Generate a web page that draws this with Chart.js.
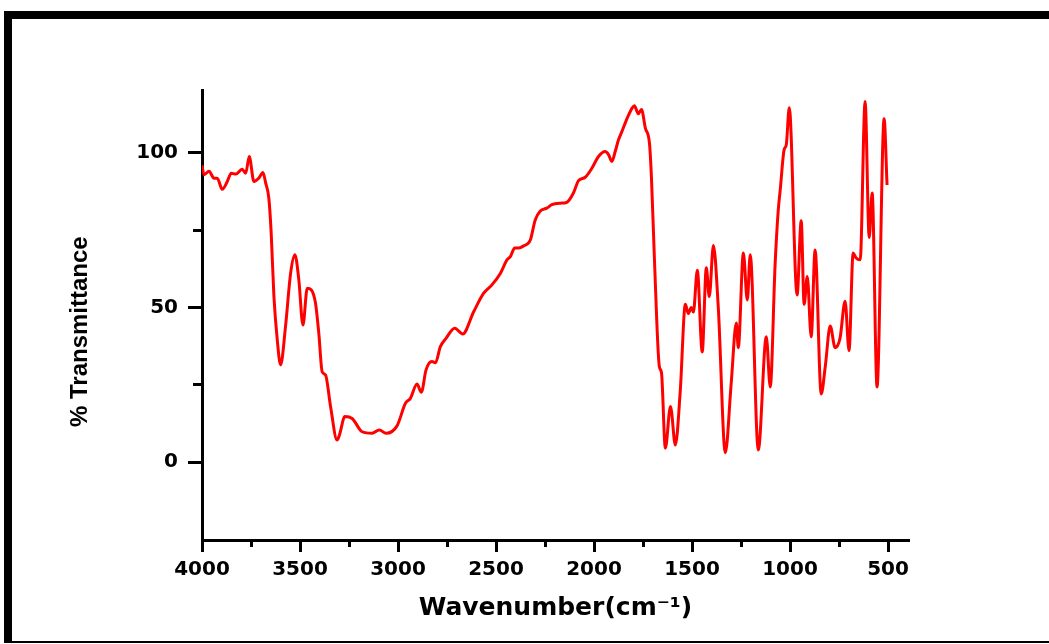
<!DOCTYPE html>
<html>
<head>
<meta charset="utf-8">
<script src="https://cdn.jsdelivr.net/npm/chart.js@4"></script>
<style>
  html, body { margin: 0; padding: 0; background: #fff; overflow: hidden; }
  #wrap { position: relative; width: 1049px; height: 644px; }
  #frame {
    position: absolute; left: 4px; top: 11px; width: 1060px; height: 622px;
    border-top: 8px solid #000; border-left: 8px solid #000; border-bottom: 2px solid #000;
    pointer-events: none;
  }
  canvas { position: absolute; left: 0; top: 0; }
</style>
</head>
<body>
<div id="wrap">
  <canvas id="ftir" width="1049" height="644"></canvas>
  <div id="frame"></div>
</div>
<script>
// FTIR spectrum
const wavenumbers = [
  4000, 3990, 3964, 3939, 3922, 3897, 3871, 3851, 3828, 3795, 3777, 3759, 3735, 3710, 3689, 3675,
  3659, 3647, 3633, 3616, 3599, 3574, 3548, 3526, 3506, 3485, 3463, 3443, 3421, 3404, 3387, 3370,
  3344, 3311, 3300, 3271, 3234, 3183, 3132, 3095, 3061, 3005, 2962, 2937, 2903, 2881, 2857, 2827,
  2809, 2784, 2755, 2711, 2670, 2614, 2563, 2521, 2478, 2444, 2427, 2405, 2385, 2359, 2325, 2300,
  2274, 2241, 2215, 2172, 2139, 2105, 2079, 2045, 2011, 1977, 1943, 1926, 1909, 1892, 1875, 1860,
  1830, 1804, 1794, 1774, 1758, 1738, 1717, 1707, 1692, 1667, 1656, 1636, 1610, 1585, 1560, 1534,
  1519, 1504, 1493, 1473, 1448, 1427, 1412, 1391, 1366, 1330, 1300, 1274, 1264, 1238, 1218, 1203,
  1162, 1121, 1101, 1076, 1060, 1050, 1030, 1019, 1004, 964, 943, 928, 912, 892, 872, 841,
  820, 795, 770, 745, 719, 699, 678, 663, 642, 617, 596, 581, 556, 520, 505
];
const transmittance = [
  96, 92.9, 94, 91.8, 91.8, 88.2, 90.7, 93.4, 93.1, 94.7, 93.4, 98.8, 90.7, 91.8, 93.6, 90.2,
  85.3, 74, 53.5, 39.5, 31.4, 43.8, 61, 67, 58.9, 44.3, 56.2, 55.7, 51.4, 41.6, 29.2, 28.2,
  17.9, 7.1, 8.5, 14.7, 14.1, 9.8, 9.3, 10.4, 9.3, 11.7, 19, 20.6, 25.2, 22.6, 29.8, 32.5,
  32.1, 37.3, 40, 43.3, 41.4, 48.6, 54.6, 57.3, 61, 65.4, 66.4, 69.2, 69.2, 69.9, 71.8, 78.3,
  81.2, 82.1, 83.2, 83.7, 84, 87, 91, 92.1, 95, 98.8, 100.4, 99.4, 97.2, 100.4, 104.2, 106.5,
  111.3, 114.6, 115.2, 112.6, 114, 108, 103, 92, 66, 31, 29, 4.5, 18, 5.5, 23, 51,
  48, 50, 48.5, 62, 35.6, 62.8, 53.5, 70, 50, 3, 25.6, 45, 37, 67.6, 52.4, 67,
  3.9, 40.5, 24.3, 64, 81.5, 88, 101, 102.6, 114.6, 54, 78, 51, 60, 40.5, 68.6, 22,
  31, 44, 37, 40, 52, 36, 67.6, 66, 65.4, 116.6, 72.6, 87, 24.3, 111, 89.6
];

// Оси
const xMajorTicks = [4000, 3500, 3000, 2500, 2000, 1500, 1000, 500];
const xMinorTicks = [3750, 3250, 2750, 2250, 1750, 1250, 750];
const yMajorTicks = [0, 50, 100];
const yMinorTicks = [25, 75];
const xRange = [393, 4000];
const yRange = [-25.2, 120.3];

const tickFont = { family: 'DejaVu Sans', size: 20, weight: 'bold' };

const points = wavenumbers.map((wn, i) => ({ x: wn, y: transmittance[i] }));

new Chart(document.getElementById('ftir'), {
  type: 'line',
  data: {
    datasets: [{
      data: points,
      borderColor: 'rgb(255, 0, 0)',
      borderWidth: 3,
      pointRadius: 0,
      cubicInterpolationMode: 'monotone',
      fill: false
    }]
  },
  options: {
    responsive: false,
    animation: false,
    events: [],
    layout: { padding: { left: 0, top: 90, right: 140, bottom: 0 } },
    plugins: { legend: { display: false }, tooltip: { enabled: false } },
    scales: {
      x: {
        type: 'linear', reverse: true,
        min: xRange[0], max: xRange[1],
        afterBuildTicks: s => { s.ticks = xMajorTicks.map(v => ({ value: v })); },
        afterFit: s => { s.height = 104; },
        border: { display: true, color: '#000', width: 3 },
        grid: { drawOnChartArea: false, drawTicks: true, tickLength: 12, tickWidth: 3, tickColor: '#000' },
        ticks: { color: '#000', font: tickFont, padding: 6, maxRotation: 0, callback: v => String(v) },
        title: {
          display: true, text: 'Wavenumber(cm⁻¹)', color: '#000',
          font: { family: 'DejaVu Sans', size: 25, weight: 'bold' },
          padding: { top: 0, bottom: 21 }
        }
      },
      xm: {
        type: 'linear', reverse: true,
        min: xRange[0], max: xRange[1],
        position: { y: yRange[0] },
        afterBuildTicks: s => { s.ticks = xMinorTicks.map(v => ({ value: v })); },
        border: { display: false },
        grid: { drawOnChartArea: false, drawTicks: true, tickLength: 7, tickWidth: 3, tickColor: '#000' },
        ticks: { display: false }
      },
      y: {
        type: 'linear',
        min: yRange[0], max: yRange[1],
        afterBuildTicks: s => { s.ticks = yMajorTicks.map(v => ({ value: v })); },
        afterFit: s => { s.width = 202; },
        border: { display: true, color: '#000', width: 3 },
        grid: { drawOnChartArea: false, drawTicks: true, tickLength: 14, tickWidth: 3, tickColor: '#000' },
        ticks: { color: '#000', font: tickFont, padding: 10, callback: v => String(v) },
        title: {
          display: true, text: '% Transmittance     ', color: '#000',
          font: { family: 'Liberation Sans', size: 24, weight: 'bold' },
          padding: { top: 66, bottom: 0 }
        }
      },
      ym: {
        type: 'linear',
        min: yRange[0], max: yRange[1],
        position: { x: xRange[1] },
        afterBuildTicks: s => { s.ticks = yMinorTicks.map(v => ({ value: v })); },
        border: { display: false },
        grid: { drawOnChartArea: false, drawTicks: true, tickLength: 9, tickWidth: 3, tickColor: '#000' },
        ticks: { display: false }
      }
    }
  }
});
</script>
</body>
</html>
